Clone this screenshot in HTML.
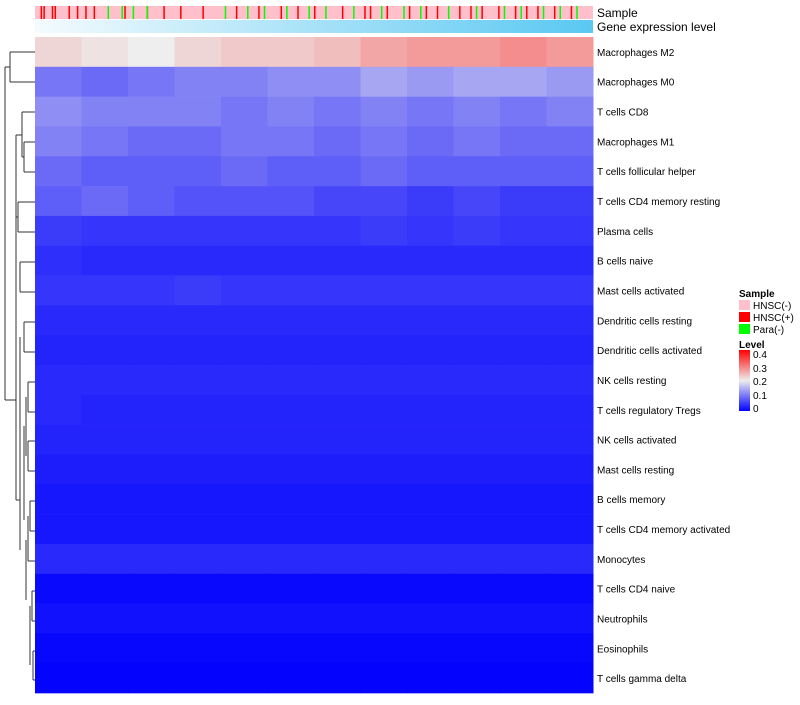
<!DOCTYPE html>
<html><head><meta charset="utf-8"><style>
body{margin:0;background:#fff;font-family:"Liberation Sans",sans-serif}
svg text{font-family:"Liberation Sans",sans-serif}
</style></head><body>
<svg id="c" width="800" height="700" xmlns="http://www.w3.org/2000/svg">
<defs><linearGradient id="gl" x1="0" x2="1"><stop offset="0" stop-color="#f4fbfe"/><stop offset="1" stop-color="#5ac8f2"/></linearGradient>
<linearGradient id="lv" x1="0" y1="1" x2="0" y2="0"><stop offset="0" stop-color="#0000ff"/><stop offset="0.5" stop-color="#eeeeee"/><stop offset="1" stop-color="#ff0000"/></linearGradient></defs>
<g id="dend" stroke="#333" fill="none" stroke-width="1">
<path d="M10,52 H35 M10,82 H35 M10,52 V82 M5,67 H10"/>
<path d="M22,112 H35 M24,142 H35 M24,172 H35 M24,142 V172 M22,157 H24 M22,112 V157 M16,135 H22"/>
<path d="M18,202 H35 M18,232 H35 M18,202 V232 M16,217 H18"/>
<path d="M16,135 V300 M5,67 V400 M5,400 H16"/>
<path d="M20,262 H35 M20,292 H35 M20,262 V292 M16,277 V500 M16,500 H20"/>
<path d="M24,322 H35 M24,352 H35 M24,322 V352 M20,337 V550"/>
<path d="M28,382 H35 M28,412 H35 M28,382 V412 M28,441 H35 M28,471 H35 M28,441 V471 M26,397 V456 M24,426 V520"/>
<path d="M30,501 H35 M30,531 H35 M30,501 V531 M28,561 H35 M28,516 V561 M26,540 V600"/>
<path d="M32,591 H35 M32,621 H35 M32,591 V621 M33,651 H35 M33,680 H35 M33,651 V680 M30,606 V665"/>
</g>
<g id="ann"></g>
<g id="hm"></g>
<g id="labels"></g>
<g>
<text x="739" y="297" font-size="10" font-weight="bold">Sample</text>
<rect x="739" y="300" width="11" height="10" fill="#ffc0cb"/>
<text x="753" y="309" font-size="10">HNSC(-)</text>
<rect x="739" y="312" width="11" height="10" fill="#ff0000"/>
<text x="753" y="321" font-size="10">HNSC(+)</text>
<rect x="739" y="324" width="11" height="10" fill="#00ff00"/>
<text x="753" y="333" font-size="10">Para(-)</text>
<text x="739" y="348" font-size="10" font-weight="bold">Level</text>
<rect x="739" y="350" width="11" height="61" fill="url(#lv)"/>
<text x="753" y="358" font-size="10">0.4</text>
<text x="753" y="372" font-size="10">0.3</text>
<text x="753" y="385" font-size="10">0.2</text>
<text x="753" y="399" font-size="10">0.1</text>
<text x="753" y="412" font-size="10">0</text>
</g>
</svg>
<script>
const rowNames=["Macrophages M2","Macrophages M0","T cells CD8","Macrophages M1","T cells follicular helper","T cells CD4 memory resting","Plasma cells","B cells naive","Mast cells activated","Dendritic cells resting","Dendritic cells activated","NK cells resting","T cells regulatory  Tregs","NK cells activated","Mast cells resting","B cells memory","T cells CD4 memory activated","Monocytes","T cells CD4 naive","Neutrophils","Eosinophils","T cells gamma delta"];
const rowValues=[
[0.22,0.21,0.2,0.22,0.23,0.23,0.24,0.26,0.27,0.27,0.28,0.27],
[0.1,0.09,0.1,0.11,0.11,0.12,0.12,0.14,0.13,0.14,0.14,0.13],
[0.12,0.11,0.11,0.11,0.1,0.11,0.1,0.11,0.1,0.11,0.1,0.11],
[0.11,0.1,0.09,0.09,0.1,0.1,0.09,0.1,0.09,0.1,0.09,0.09],
[0.09,0.08,0.08,0.08,0.09,0.08,0.08,0.09,0.08,0.08,0.08,0.08],
[0.08,0.09,0.08,0.07,0.07,0.07,0.06,0.06,0.05,0.06,0.05,0.05],
[0.05,0.045,0.045,0.045,0.045,0.045,0.045,0.05,0.045,0.05,0.045,0.045],
[0.04,0.035,0.035,0.035,0.035,0.035,0.035,0.035,0.035,0.035,0.035,0.035],
[0.045,0.045,0.045,0.05,0.045,0.045,0.045,0.045,0.045,0.045,0.045,0.045],
[0.035,0.035,0.035,0.035,0.035,0.035,0.035,0.035,0.035,0.035,0.035,0.035],
[0.03,0.03,0.03,0.03,0.03,0.03,0.03,0.03,0.03,0.03,0.03,0.03],
[0.035,0.035,0.035,0.035,0.035,0.035,0.035,0.035,0.035,0.035,0.035,0.035],
[0.035,0.03,0.03,0.03,0.03,0.03,0.03,0.03,0.03,0.03,0.03,0.03],
[0.03,0.03,0.03,0.03,0.03,0.03,0.03,0.03,0.03,0.03,0.03,0.03],
[0.025,0.025,0.025,0.025,0.025,0.025,0.025,0.025,0.025,0.025,0.025,0.025],
[0.02,0.02,0.02,0.02,0.02,0.02,0.02,0.02,0.02,0.02,0.02,0.02],
[0.02,0.02,0.02,0.02,0.02,0.02,0.02,0.02,0.02,0.02,0.02,0.02],
[0.035,0.035,0.035,0.035,0.035,0.035,0.035,0.035,0.035,0.035,0.035,0.035],
[0.008,0.008,0.008,0.008,0.008,0.008,0.008,0.008,0.008,0.008,0.008,0.008],
[0.015,0.015,0.015,0.015,0.015,0.015,0.015,0.015,0.015,0.015,0.015,0.015],
[0.006,0.006,0.006,0.006,0.006,0.006,0.006,0.006,0.006,0.006,0.006,0.006],
[0.004,0.004,0.004,0.004,0.004,0.004,0.004,0.004,0.004,0.004,0.004,0.004]];
const redPositions=[0.01,0.015,0.03,0.035,0.06,0.075,0.09,0.105,0.16,0.2,0.23,0.26,0.3,0.36,0.4,0.44,0.47,0.5,0.55,0.59,0.6,0.63,0.67,0.7,0.72,0.76,0.78,0.8,0.83,0.86,0.88,0.9,0.93,0.96];
const greenPositions=[0.13,0.155,0.175,0.2,0.34,0.38,0.41,0.45,0.49,0.52,0.57,0.62,0.66,0.69,0.74,0.79,0.84,0.87,0.91,0.94,0.97];
const NS="http://www.w3.org/2000/svg";
const X0=35,X1=593,Y0=37,RH=29.82;
const xs=f=>X0+f*(X1-X0);
function col(v){let t=Math.max(0,Math.min(0.4,v))/0.4;let r,g,b;
if(t<0.5){let u=t/0.5;r=255*u*0.93;g=255*u*0.93;b=255-17*u;}else{let u=(t-0.5)/0.5;r=238+17*u;g=238*(1-u);b=238*(1-u);}
return `rgb(${r|0},${g|0},${b|0})`;}
function mk(tag,at,parent){const e=document.createElementNS(NS,tag);for(const k in at)e.setAttribute(k,at[k]);parent.appendChild(e);return e;}
const ann=document.getElementById('ann'),hm=document.getElementById('hm'),lab=document.getElementById('labels');
let e=mk('rect',{x:X0,y:6,width:X1-X0,height:13,fill:'#ffc0cb'},ann);


redPositions.forEach(p=>{const s=mk('rect',{x:xs(p),y:6,width:1.5,height:13,fill:'#ff0000'},ann);

});
greenPositions.forEach(p=>{const s=mk('rect',{x:xs(p),y:6,width:1.5,height:13,fill:'#00ff00'},ann);

});
e=mk('rect',{x:X0,y:20,width:X1-X0,height:13,fill:'url(#gl)'},ann);


let t=mk('text',{x:597,y:17,'font-size':12},ann);t.textContent='Sample';


t=mk('text',{x:597,y:31,'font-size':12},ann);t.textContent='Gene expression level';


rowValues.forEach((row,i)=>{const n=row.length,w=(X1-X0)/n;
row.forEach((v,j)=>{const r=mk('rect',{x:X0+j*w,y:Y0+i*RH,width:w+0.5,height:RH+0.3,fill:col(v)},hm);

});
const l=mk('text',{x:597,y:Y0+i*RH+RH/2+4,'font-size':10},lab);l.textContent=rowNames[i];

});
</script>
</body></html>
